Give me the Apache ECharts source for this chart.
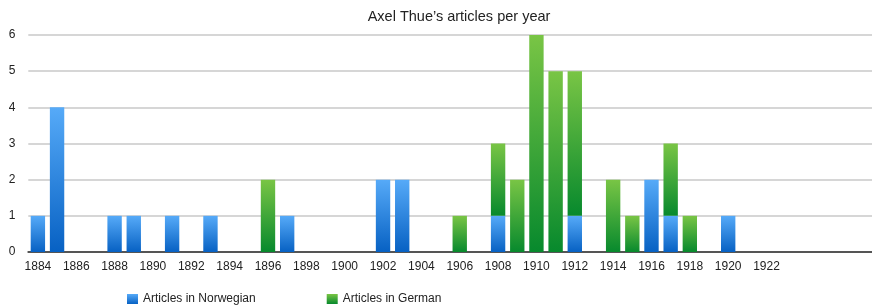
<!DOCTYPE html>
<html>
<head>
<meta charset="utf-8">
<script src="https://cdn.jsdelivr.net/npm/echarts@6/dist/echarts.min.js"></script>
<style>
html, body { margin: 0; padding: 0; background: #fff; }
#chart_div { width: 872px; height: 308px; }
</style>
</head>
<body>
<div id="chart_div"></div>
<script>
// ----------- 数据 -----------
var years = []
for (var y = 1884; y <= 1927; y++) {
    years.push(String(y))
}
// 最后一个显示的年份标签
var last_label_year = 1922

// 挪威语文章
var norwegian = {
    1884: 1, 1885: 4, 1888: 1, 1889: 1, 1891: 1, 1893: 1, 1897: 1,
    1902: 2, 1903: 2, 1908: 1, 1912: 1, 1916: 2, 1917: 1, 1920: 1
}
// 德语文章
var german = {
    1896: 2, 1906: 1, 1908: 2, 1909: 2, 1910: 6, 1911: 5, 1912: 4,
    1914: 2, 1915: 1, 1917: 2, 1918: 1
}

var norwegian_data = years.map(function (y) { return norwegian[y] || 0 })
var german_data = years.map(function (y) { return german[y] || 0 })

function grad(top, bottom) {
    return new echarts.graphic.LinearGradient(0, 0, 0, 1, [
        { offset: 0, color: top },
        { offset: 1, color: bottom }
    ])
}

var chart = echarts.init(document.getElementById('chart_div'))
var font = 'Liberation Sans, Helvetica, Arial, sans-serif'

var option = {
    animation: false,
    title: {
        text: 'Axel Thue\u2019s articles per year',
        left: 454,
        textAlign: 'center',
        top: 4,
        textStyle: { fontFamily: font, fontSize: 14.5, fontWeight: 'normal', color: '#222' }
    },
    legend: {
        left: 122,
        top: 288,
        icon: 'rect',
        itemWidth: 11,
        itemHeight: 10,
        itemGap: 71,
        textStyle: { fontFamily: font, fontSize: 12, color: '#222' },
        data: ['Articles in Norwegian', 'Articles in German']
    },
    grid: {
        left: 28.3,
        right: -8,
        top: 35,
        bottom: 56
    },
    xAxis: {
        type: 'category',
        data: years,
        axisLine: { lineStyle: { color: '#555', width: 2 } },
        axisTick: { show: false },
        axisLabel: {
            interval: 0,
            margin: 9,
            fontFamily: font,
            fontSize: 12,
            color: '#222',
            formatter: function (value, index) {
                if (index % 2 == 0 && Number(value) <= last_label_year) {
                    return value
                }
                return ''
            }
        }
    },
    yAxis: {
        type: 'value',
        min: 0,
        max: 6,
        interval: 1,
        axisLine: { show: false },
        axisTick: { show: false },
        axisLabel: { margin: 13, fontFamily: font, fontSize: 12, color: '#222' },
        splitLine: { lineStyle: { color: '#c8c8c8', width: 1.5 } }
    },
    series: [
        {
            name: 'Articles in Norwegian',
            type: 'bar',
            stack: 'total',
            barWidth: '75%',
            data: norwegian_data,
            itemStyle: { color: grad('#56aaf8', '#0761c3') }
        },
        {
            name: 'Articles in German',
            type: 'bar',
            stack: 'total',
            barWidth: '75%',
            data: german_data,
            itemStyle: { color: grad('#79c545', '#07892d') }
        }
    ]
}

chart.setOption(option)
</script>
</body>
</html>
